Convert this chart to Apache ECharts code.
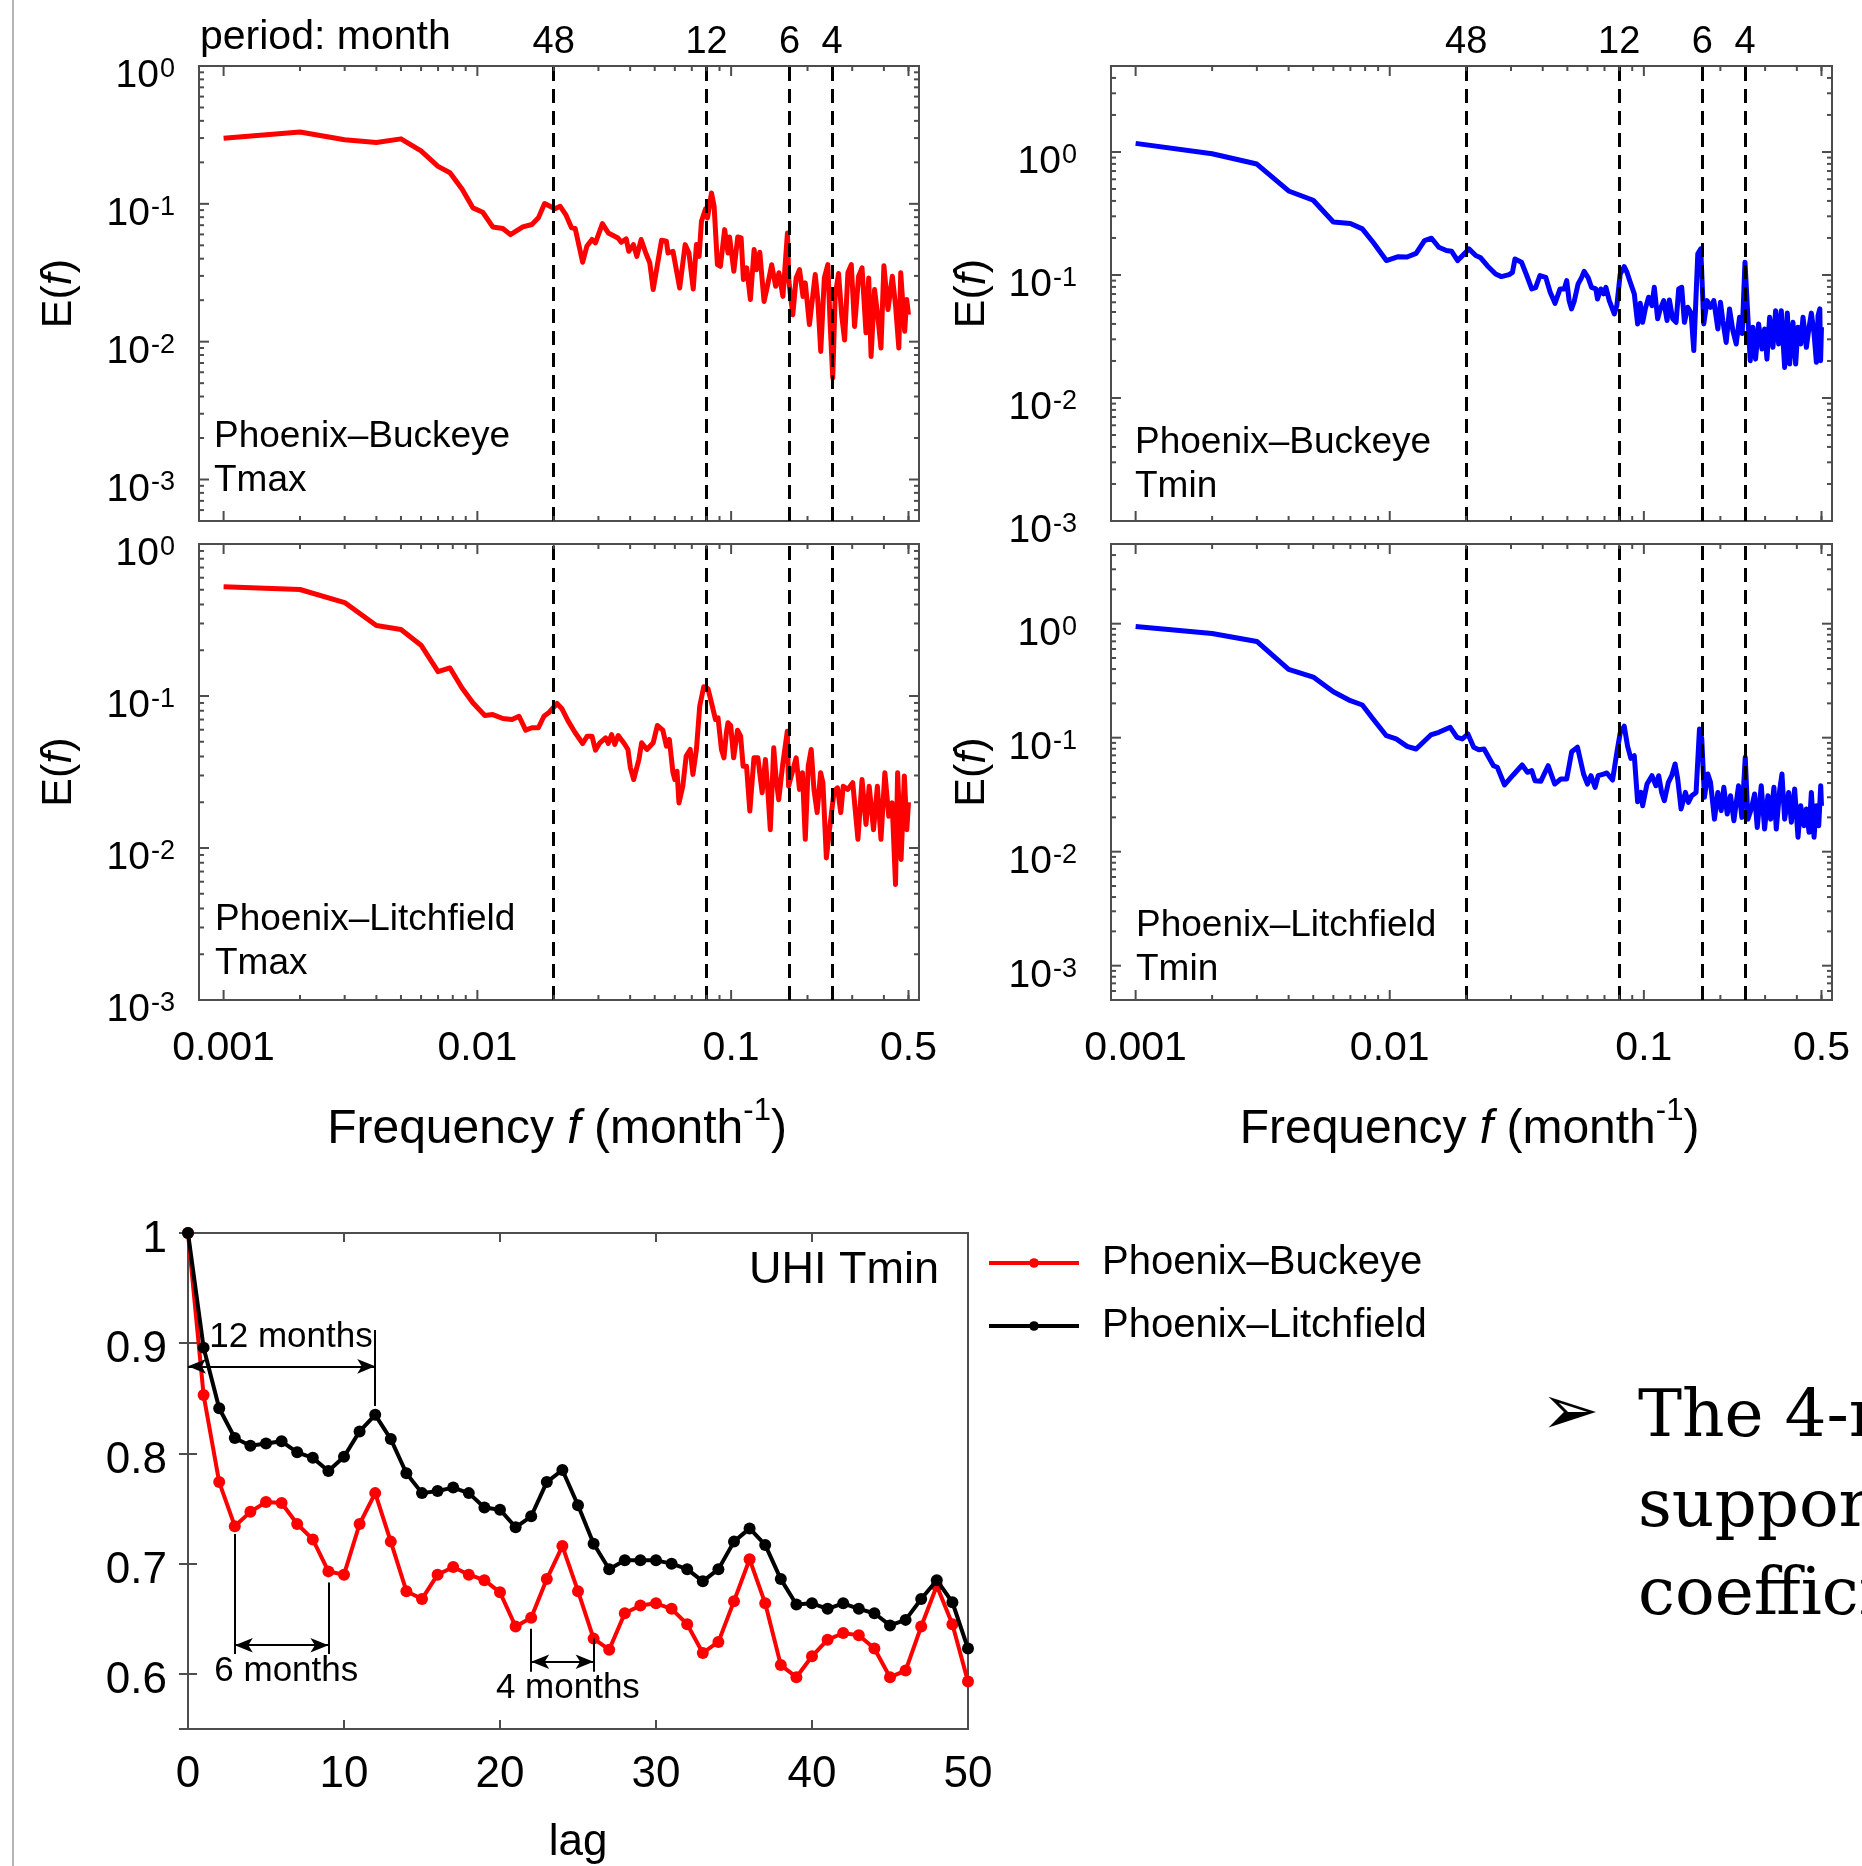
<!DOCTYPE html>
<html>
<head>
<meta charset="utf-8">
<title>UHI spectra and autocorrelation</title>
<script src="https://cdn.jsdelivr.net/npm/echarts@6/dist/echarts.min.js"></script>
<style>
html, body { margin: 0; padding: 0; background: #fff; }
#main { width: 1862px; height: 1866px; }
</style>
</head>
<body>
<div id="main"></div>
<script>
// periods (months) marked by the dashed lines
const periods = [48, 12, 6, 4];

// log axis ticks
const xMajorTicks = [0.001, 0.01, 0.1, 0.5];
const xTickLabels = ['0.001', '0.01', '0.1', '0.5'];
const xMinorTicks = [0.002, 0.003, 0.004, 0.005, 0.006, 0.007, 0.008, 0.009,
  0.02, 0.03, 0.04, 0.05, 0.06, 0.07, 0.08, 0.09, 0.2, 0.3, 0.4, 0.5];
const yMajorTicks = [0.001, 0.01, 0.1, 1];
const yMinorTicks = [0.0005, 0.0006, 0.0007, 0.0008, 0.0009,
  0.002, 0.003, 0.004, 0.005, 0.006, 0.007, 0.008, 0.009,
  0.02, 0.03, 0.04, 0.05, 0.06, 0.07, 0.08, 0.09,
  0.2, 0.3, 0.4, 0.5, 0.6, 0.7, 0.8, 0.9, 2, 3, 4, 5];

// spectra E(f), pairs [frequency (1/month), E]
const buckeyeTmax = [[0.001,0.299],[0.002,0.332],[0.003,0.292],[0.004,0.279],[0.005,0.296],[0.006,0.242],[0.007,0.187],[0.0078,0.168],[0.0087,0.128],[0.0096,0.0935],[0.0105,0.0869],[0.0115,0.068],[0.0126,0.0662],[0.0135,0.0598],[0.0151,0.068],[0.0164,0.0708],[0.0174,0.0791],[0.0184,0.1005],[0.0202,0.092],[0.0212,0.096],[0.0223,0.0836],[0.0235,0.067],[0.0243,0.0662],[0.026,0.0377],[0.027,0.0492],[0.0283,0.0551],[0.0292,0.0521],[0.0311,0.0719],[0.0328,0.0615],[0.0343,0.0589],[0.0358,0.0566],[0.0369,0.0526],[0.0386,0.0557],[0.0395,0.0453],[0.0412,0.0506],[0.0425,0.0416],[0.0442,0.0551],[0.0461,0.044],[0.0478,0.0373],[0.0493,0.0239],[0.0532,0.0544],[0.0556,0.0535],[0.0564,0.044],[0.059,0.0453],[0.0627,0.0245],[0.0659,0.0506],[0.0682,0.044],[0.0709,0.0241],[0.073,0.0506],[0.0748,0.0416],[0.0764,0.0748],[0.0793,0.092],[0.0807,0.079],[0.0837,0.12],[0.0857,0.096],[0.0883,0.0362],[0.0907,0.0352],[0.0943,0.065],[0.0972,0.044],[0.0986,0.0575],[0.1025,0.0324],[0.1062,0.0575],[0.1095,0.0566],[0.1118,0.0282],[0.1152,0.0343],[0.1191,0.0202],[0.1232,0.0466],[0.1258,0.0333],[0.1297,0.0445],[0.1348,0.0196],[0.1389,0.0252],[0.1445,0.0362],[0.1498,0.0252],[0.1543,0.0316],[0.16,0.0213],[0.1667,0.0615],[0.1689,0.0274],[0.175,0.0157],[0.1804,0.029],[0.186,0.0333],[0.192,0.0213],[0.196,0.0267],[0.2035,0.0133],[0.2145,0.0307],[0.2195,0.0202],[0.2255,0.0085],[0.233,0.029],[0.2405,0.0362],[0.2455,0.0137],[0.2515,0.00545],[0.257,0.0213],[0.265,0.0312],[0.273,0.0153],[0.28,0.0103],[0.2885,0.0316],[0.2975,0.0362],[0.3065,0.0129],[0.318,0.0298],[0.328,0.0343],[0.34,0.0116],[0.3485,0.029],[0.356,0.0078],[0.3675,0.0239],[0.3785,0.0153],[0.3895,0.009],[0.4,0.0356],[0.415,0.0171],[0.4318,0.0298],[0.445,0.018],[0.458,0.009],[0.466,0.0316],[0.483,0.0119],[0.492,0.0202],[0.5,0.0157]];

const litchfieldTmax = [[0.001,0.524],[0.002,0.502],[0.003,0.412],[0.004,0.291],[0.005,0.274],[0.006,0.216],[0.007,0.1445],[0.0078,0.153],[0.0087,0.113],[0.0096,0.0902],[0.0107,0.0744],[0.0115,0.0755],[0.0126,0.0711],[0.0137,0.07],[0.0146,0.0736],[0.0155,0.0596],[0.0164,0.0618],[0.0174,0.0618],[0.0183,0.0736],[0.0192,0.0782],[0.0206,0.0893],[0.0215,0.0828],[0.0228,0.0683],[0.0243,0.0573],[0.026,0.0487],[0.0271,0.0544],[0.0283,0.0544],[0.0292,0.044],[0.0304,0.0492],[0.032,0.0531],[0.0328,0.0487],[0.0338,0.0558],[0.0348,0.048],[0.0359,0.055],[0.0379,0.0487],[0.0392,0.0445],[0.0401,0.0337],[0.0413,0.0282],[0.0433,0.0382],[0.0444,0.0492],[0.0466,0.0445],[0.0493,0.0492],[0.0512,0.064],[0.0538,0.0596],[0.0556,0.0468],[0.0571,0.0518],[0.059,0.0313],[0.06,0.0282],[0.0612,0.032],[0.0623,0.0198],[0.0645,0.0255],[0.0665,0.0402],[0.069,0.0445],[0.0707,0.0305],[0.073,0.0445],[0.0752,0.0857],[0.078,0.115],[0.0811,0.1115],[0.0837,0.0902],[0.0868,0.07],[0.0888,0.0719],[0.0916,0.0445],[0.0937,0.0392],[0.0958,0.0573],[0.0972,0.0667],[0.0996,0.064],[0.1023,0.0392],[0.106,0.0596],[0.109,0.0544],[0.1115,0.0345],[0.115,0.0345],[0.1185,0.0175],[0.123,0.0392],[0.1275,0.0392],[0.1325,0.0231],[0.1365,0.0382],[0.1394,0.0243],[0.1427,0.0132],[0.1472,0.0456],[0.1505,0.0282],[0.154,0.0208],[0.1597,0.0354],[0.1665,0.0587],[0.1684,0.0255],[0.174,0.0313],[0.1804,0.0392],[0.186,0.0243],[0.191,0.0313],[0.196,0.0114],[0.2013,0.0345],[0.2068,0.0445],[0.212,0.0243],[0.2183,0.0171],[0.2252,0.0313],[0.23,0.0269],[0.2373,0.0086],[0.2446,0.0136],[0.2545,0.0236],[0.2625,0.0249],[0.2705,0.0171],[0.2765,0.0255],[0.288,0.0243],[0.3015,0.0269],[0.316,0.0114],[0.328,0.0282],[0.34,0.0143],[0.35,0.0255],[0.364,0.0132],[0.377,0.0255],[0.3895,0.0114],[0.4035,0.0313],[0.418,0.0162],[0.431,0.0198],[0.4445,0.00575],[0.453,0.0313],[0.4675,0.0084],[0.4815,0.0298],[0.4925,0.0132],[0.5,0.02]];

const buckeyeTmin = [[0.001,1.175],[0.002,0.968],[0.003,0.798],[0.004,0.482],[0.005,0.405],[0.006,0.27],[0.007,0.262],[0.0078,0.237],[0.0086,0.1845],[0.0097,0.131],[0.0108,0.141],[0.0117,0.14],[0.0127,0.15],[0.0137,0.1905],[0.0146,0.199],[0.0156,0.168],[0.0167,0.158],[0.0175,0.156],[0.0185,0.131],[0.0205,0.163],[0.0218,0.144],[0.0228,0.138],[0.0242,0.119],[0.0261,0.102],[0.0275,0.097],[0.0295,0.1007],[0.0304,0.105],[0.0311,0.135],[0.033,0.127],[0.0346,0.099],[0.0362,0.077],[0.0375,0.079],[0.039,0.099],[0.0411,0.0958],[0.0428,0.0723],[0.0447,0.0588],[0.0468,0.077],[0.0486,0.077],[0.0497,0.09],[0.0508,0.0619],[0.0519,0.053],[0.0532,0.0611],[0.0551,0.0846],[0.0568,0.0947],[0.0582,0.107],[0.0604,0.0947],[0.0622,0.0794],[0.0647,0.077],[0.0657,0.0638],[0.0677,0.077],[0.0694,0.0702],[0.0709,0.0794],[0.0731,0.0619],[0.0765,0.0482],[0.0783,0.0564],[0.0807,0.102],[0.0837,0.117],[0.0858,0.105],[0.0884,0.0873],[0.0917,0.0702],[0.0945,0.04],[0.0968,0.0588],[0.0989,0.0412],[0.1013,0.053],[0.1044,0.0659],[0.1076,0.0564],[0.1099,0.0794],[0.1133,0.044],[0.1161,0.053],[0.1197,0.0619],[0.1234,0.0426],[0.126,0.0626],[0.1299,0.044],[0.1339,0.0412],[0.1371,0.077],[0.1409,0.0794],[0.1444,0.0412],[0.1488,0.0546],[0.1534,0.049],[0.1572,0.0243],[0.163,0.1485],[0.1675,0.163],[0.1721,0.04],[0.1774,0.0619],[0.1829,0.0546],[0.1885,0.0619],[0.1955,0.0364],[0.2002,0.06],[0.2045,0.0426],[0.2108,0.0283],[0.2173,0.053],[0.224,0.0353],[0.2309,0.0275],[0.238,0.0453],[0.2438,0.0334],[0.25,0.127],[0.2567,0.0453],[0.2622,0.0201],[0.2686,0.0376],[0.2752,0.0207],[0.2828,0.04],[0.2915,0.025],[0.2986,0.0364],[0.305,0.0207],[0.3125,0.0453],[0.3221,0.0258],[0.33,0.0513],[0.3391,0.0275],[0.3474,0.0513],[0.3581,0.0177],[0.3669,0.049],[0.3747,0.0189],[0.3862,0.0412],[0.3957,0.0189],[0.4042,0.0376],[0.4141,0.0275],[0.423,0.0453],[0.436,0.0258],[0.4467,0.0376],[0.4562,0.049],[0.4674,0.0334],[0.4774,0.0195],[0.4847,0.0468],[0.4925,0.053],[0.496,0.0201],[0.5,0.0376]];

const litchfieldTmin = [[0.001,0.946],[0.002,0.819],[0.003,0.698],[0.004,0.398],[0.005,0.34],[0.006,0.253],[0.007,0.211],[0.0078,0.1935],[0.0086,0.146],[0.0097,0.104],[0.0106,0.0975],[0.0117,0.084],[0.0127,0.0796],[0.0145,0.1056],[0.0156,0.1115],[0.0173,0.1233],[0.0184,0.1007],[0.0193,0.0975],[0.0203,0.1077],[0.0214,0.0824],[0.0224,0.0785],[0.0235,0.0796],[0.0256,0.0568],[0.0265,0.055],[0.0283,0.0385],[0.0306,0.0471],[0.0332,0.0576],[0.0348,0.0497],[0.0362,0.0514],[0.0373,0.0419],[0.0393,0.0414],[0.042,0.0568],[0.0446,0.0392],[0.0471,0.0434],[0.0497,0.0434],[0.052,0.0753],[0.0548,0.0824],[0.0579,0.048],[0.06,0.0392],[0.0619,0.0464],[0.0643,0.0367],[0.0661,0.0464],[0.0694,0.048],[0.0715,0.049],[0.0753,0.0425],[0.0783,0.0744],[0.0807,0.11],[0.0837,0.126],[0.0863,0.084],[0.0889,0.0659],[0.0917,0.0695],[0.0945,0.0274],[0.0974,0.0331],[0.0989,0.0253],[0.1029,0.0392],[0.1076,0.0464],[0.1116,0.0379],[0.1144,0.0464],[0.1175,0.0331],[0.1204,0.028],[0.1249,0.0406],[0.1287,0.0464],[0.1327,0.0588],[0.1359,0.0434],[0.1401,0.0237],[0.1457,0.0331],[0.1497,0.0271],[0.1543,0.031],[0.1605,0.0331],[0.1655,0.119],[0.169,0.0975],[0.1731,0.03],[0.1785,0.048],[0.1829,0.0406],[0.1896,0.0193],[0.1955,0.0331],[0.2015,0.0229],[0.2064,0.0367],[0.2128,0.0214],[0.2193,0.031],[0.2261,0.0187],[0.2358,0.0379],[0.2431,0.02],[0.2506,0.0673],[0.2567,0.0193],[0.2646,0.0237],[0.2727,0.0321],[0.2794,0.0163],[0.2897,0.0379],[0.2986,0.0158],[0.3078,0.031],[0.3154,0.0193],[0.325,0.0367],[0.332,0.0158],[0.3422,0.0343],[0.3495,0.048],[0.3581,0.0193],[0.3714,0.0331],[0.3805,0.0181],[0.3921,0.0355],[0.4042,0.0134],[0.4141,0.0253],[0.4268,0.0169],[0.436,0.0237],[0.4467,0.0148],[0.4562,0.0331],[0.4674,0.0134],[0.4774,0.0253],[0.4877,0.0169],[0.4966,0.0379],[0.5,0.0253]];

// autocorrelation of UHI Tmin
const lags = [0,1,2,3,4,5,6,7,8,9,10,11,12,13,14,15,16,17,18,19,20,21,22,23,24,25,26,27,28,29,30,31,32,33,34,35,36,37,38,39,40,41,42,43,44,45,46,47,48,49,50];
const acfBuckeye = [1.0,0.853,0.774,0.734,0.747,0.756,0.755,0.736,0.722,0.693,0.690,0.736,0.764,0.720,0.675,0.668,0.690,0.697,0.690,0.685,0.674,0.643,0.651,0.686,0.716,0.675,0.632,0.622,0.655,0.662,0.664,0.659,0.645,0.619,0.629,0.666,0.704,0.664,0.608,0.597,0.616,0.631,0.637,0.635,0.623,0.597,0.603,0.643,0.680,0.645,0.593];
const acfLitchfield = [1.0,0.896,0.841,0.814,0.807,0.809,0.811,0.801,0.796,0.784,0.797,0.820,0.835,0.813,0.782,0.764,0.766,0.769,0.764,0.751,0.749,0.733,0.743,0.774,0.785,0.753,0.718,0.695,0.703,0.703,0.703,0.700,0.695,0.684,0.695,0.720,0.732,0.717,0.686,0.663,0.664,0.659,0.664,0.659,0.655,0.644,0.649,0.668,0.685,0.665,0.623];

// annotations of the lag plot, in data units [lag, acf]
const spanArrows = [[0, 12, 0.879], [3, 9, 0.626], [22, 26, 0.611]];
const spanBars = [[12, 0.912, 0.843], [3, 0.727, 0.618], [9, 0.683, 0.618], [22, 0.641, 0.602], [26, 0.632, 0.602]];
const monthLabels = [['12 months', 6.6, 0.905], ['6 months', 6.3, 0.602], ['4 months', 24.35, 0.5865]];

const FONT = '"Liberation Sans", Arial, Helvetica, sans-serif';
const INK = '#000';
const FRAME = '#4d4d4d';

const panels = [
  { data: buckeyeTmax, color: '#ff0000', site: 'Phoenix–Buckeye', vr: 'Tmax', box: [199, 66, 720, 455], yMin: 0.0005, yMax: 1, top: true, noteAt: [214, 415], yTitleX: 59.5, labelMargin: 24 },
  { data: litchfieldTmax, color: '#ff0000', site: 'Phoenix–Litchfield', vr: 'Tmax', box: [199, 544, 720, 456], yMin: 0.001, yMax: 1, top: false, noteAt: [215, 898], yTitleX: 59.5, labelMargin: 24 },
  { data: buckeyeTmin, color: '#0000ff', site: 'Phoenix–Buckeye', vr: 'Tmin', box: [1111, 66, 721, 455], yMin: 0.001, yMax: 5, top: true, noteAt: [1135, 421], yTitleX: 972.6, labelMargin: 34 },
  { data: litchfieldTmin, color: '#0000ff', site: 'Phoenix–Litchfield', vr: 'Tmin', box: [1111, 544, 721, 456], yMin: 0.0005, yMax: 5, top: false, noteAt: [1136, 904], yTitleX: 972.6, labelMargin: 34 }
];

const grids = [], xAxes = [], yAxes = [], series = [], graphics = [];

function decadeLabel(v) {
  const lg = Math.log10(v);
  const e = Math.round(lg);
  if (Math.abs(lg - e) > 0.02) return '';
  return '{b|10}{s|' + e + '}';
}

function tickSeries(i, p) {
  const items = [];
  const inY = v => v >= p.yMin * 0.999 && v <= p.yMax * 1.001;
  xMajorTicks.forEach(v => items.push({ value: [v, p.yMax], kind: 'x', len: 10 }));
  xMinorTicks.forEach(v => items.push({ value: [v, p.yMax], kind: 'x', len: 5 }));
  yMajorTicks.filter(inY).forEach(v => items.push({ value: [0.01, v], kind: 'y', len: 10 }));
  yMinorTicks.filter(inY).forEach(v => items.push({ value: [0.01, v], kind: 'y', len: 5 }));
  if (!p.top) {
    xMajorTicks.forEach((v, k) => items.push({ value: [v, p.yMax], kind: 'label', text: xTickLabels[k] }));
  }
  return {
    type: 'custom', name: 'ticks' + i, xAxisIndex: i, yAxisIndex: i,
    silent: true, clip: false, z: 6, animation: false,
    data: items.map(d => d.value),
    renderItem: function (params, api) {
      const d = items[params.dataIndex];
      const cs = params.coordSys;
      const pt = api.coord([api.value(0), api.value(1)]);
      const st = { stroke: FRAME, lineWidth: 2 };
      const bottom = cs.y + cs.height, right = cs.x + cs.width;
      if (d.kind === 'x') {
        return { type: 'group', children: [
          { type: 'line', shape: { x1: pt[0], y1: bottom, x2: pt[0], y2: bottom - d.len }, style: st },
          { type: 'line', shape: { x1: pt[0], y1: cs.y, x2: pt[0], y2: cs.y + d.len }, style: st }
        ] };
      }
      if (d.kind === 'y') {
        return { type: 'group', children: [
          { type: 'line', shape: { x1: cs.x, y1: pt[1], x2: cs.x + d.len, y2: pt[1] }, style: st },
          { type: 'line', shape: { x1: right, y1: pt[1], x2: right - d.len, y2: pt[1] }, style: st }
        ] };
      }
      return { type: 'text', x: pt[0], y: bottom + 49,
        style: { text: d.text, fill: INK, fontSize: 41, fontFamily: FONT, align: 'center', verticalAlign: 'middle' } };
    }
  };
}

panels.forEach(function (p, i) {
  grids.push({ left: p.box[0], top: p.box[1], width: p.box[2], height: p.box[3],
    show: true, borderColor: FRAME, borderWidth: 2, backgroundColor: 'transparent',
    containLabel: false, outerBoundsMode: 'none' });
  xAxes.push({ type: 'log', logBase: 10, gridIndex: i, min: 0.0008, max: 0.55,
    axisLine: { show: false }, axisTick: { show: false }, axisLabel: { show: false }, splitLine: { show: false } });
  yAxes.push({ type: 'log', logBase: 10, gridIndex: i, min: p.yMin, max: p.yMax,
    axisLine: { show: false }, axisTick: { show: false }, splitLine: { show: false },
    axisLabel: {
      formatter: decadeLabel, margin: p.labelMargin, padding: [20, 0, 0, 0],
      rich: {
        b: { fontSize: 39, fontFamily: FONT, color: INK, lineHeight: 40, verticalAlign: 'bottom' },
        s: { fontSize: 27, fontFamily: FONT, color: INK, lineHeight: 24, verticalAlign: 'top', padding: [0, 0, 26, 1] }
      }
    } });
  series.push({
    type: 'line', name: p.site + ' ' + p.vr + ' spectrum', xAxisIndex: i, yAxisIndex: i,
    data: p.data, showSymbol: false, symbol: 'none', animation: false, z: 3,
    lineStyle: { color: p.color, width: 5, join: 'round' }, itemStyle: { color: p.color },
    markLine: {
      silent: true, animation: false, symbol: ['none', 'none'],
      lineStyle: { color: INK, width: 3, type: [14, 8] },
      label: { show: p.top, position: 'end', formatter: '{b}', fontSize: 38, fontFamily: FONT, color: INK, distance: 4 },
      data: periods.map(m => ({ xAxis: 1 / m, name: String(m) }))
    }
  });
  series.push(tickSeries(i, p));

  graphics.push({ type: 'text', x: p.noteAt[0], y: p.noteAt[1], silent: true,
    style: { text: p.site + '\n' + p.vr, fill: INK, fontSize: 37, fontFamily: FONT, lineHeight: 44,
      textAlign: 'left', align: 'left', textVerticalAlign: 'top', verticalAlign: 'top' } });
  graphics.push({ type: 'text', x: p.yTitleX, y: p.box[1] + p.box[3] / 2, rotation: Math.PI / 2, silent: true,
    style: { text: '{n|E(}{i|f}{n|)}', textAlign: 'center', align: 'center', textVerticalAlign: 'middle', verticalAlign: 'middle',
      rich: { n: { fontSize: 43, fontFamily: FONT, fill: INK, textFill: INK }, i: { fontSize: 43, fontFamily: FONT, fontStyle: 'italic', fill: INK, textFill: INK } } } });
  if (!p.top) {
    graphics.push({ type: 'text', x: p.box[0] + p.box[2] / 2 - 2, y: 1125, silent: true,
      style: { text: '{n|Frequency }{i|f}{n| (month}{s|-1}{n|)}', textAlign: 'center', align: 'center', textVerticalAlign: 'middle', verticalAlign: 'middle',
        rich: {
          n: { fontSize: 48, fontFamily: FONT, fill: INK, textFill: INK, lineHeight: 58, verticalAlign: 'bottom', textVerticalAlign: 'bottom' },
          i: { fontSize: 48, fontFamily: FONT, fontStyle: 'italic', fill: INK, textFill: INK, lineHeight: 58, verticalAlign: 'bottom', textVerticalAlign: 'bottom' },
          s: { fontSize: 31, fontFamily: FONT, fill: INK, textFill: INK, lineHeight: 30, verticalAlign: 'top', textVerticalAlign: 'top' }
        } } });
  }
});

// autocorrelation panel
grids.push({ left: 188, top: 1233, width: 780, height: 496, show: true, borderColor: FRAME, borderWidth: 2,
  backgroundColor: 'transparent', containLabel: false, outerBoundsMode: 'none' });
const lagTick = { show: true, inside: true, length: 9, lineStyle: { color: FRAME, width: 2 } };
xAxes.push({ type: 'value', gridIndex: 4, min: 0, max: 50, interval: 10, position: 'bottom',
  axisLine: { show: false }, axisTick: lagTick, splitLine: { show: false },
  axisLabel: { fontSize: 44, fontFamily: FONT, color: INK, margin: 24 },
  name: 'lag', nameLocation: 'middle', nameGap: 92, nameMoveOverlap: false,
  nameTextStyle: { fontSize: 44, fontFamily: FONT, color: INK } });
xAxes.push({ type: 'value', gridIndex: 4, min: 0, max: 50, interval: 10, position: 'top',
  axisLine: { show: false }, axisTick: lagTick, splitLine: { show: false }, axisLabel: { show: false } });
yAxes.push({ type: 'value', gridIndex: 4, min: 0.55, max: 1, splitNumber: 5, position: 'left',
  axisLine: { show: false }, axisTick: lagTick, splitLine: { show: false },
  axisLabel: { fontSize: 44, fontFamily: FONT, color: INK, margin: 21, showMinLabel: false,
    formatter: v => '{v|' + v + '}', rich: { v: { fontSize: 44, fontFamily: FONT, color: INK, padding: [14, 0, 0, 0] } } } });
yAxes.push({ type: 'value', gridIndex: 4, min: 0.55, max: 1, splitNumber: 5, position: 'right',
  axisLine: { show: false }, axisTick: lagTick, splitLine: { show: false }, axisLabel: { show: false } });

series.push({
  type: 'line', name: 'Phoenix–Buckeye', xAxisIndex: 4, yAxisIndex: 4, animation: false,
  data: lags.map((l, k) => [l, acfBuckeye[k]]),
  symbol: 'circle', symbolSize: 12, showAllSymbol: true, z: 3,
  lineStyle: { color: '#ff0000', width: 4 }, itemStyle: { color: '#ff0000' },
  markLine: {
    silent: true, animation: false, symbol: ['arrow', 'arrow'], symbolSize: [11, 18],
    lineStyle: { color: INK, width: 2, type: 'solid' }, label: { show: false },
    data: spanArrows.map(a => [{ coord: [a[0], a[2]] }, { coord: [a[1], a[2]] }])
  }
});
series.push({
  type: 'line', name: 'Phoenix–Litchfield', xAxisIndex: 4, yAxisIndex: 4, animation: false,
  data: lags.map((l, k) => [l, acfLitchfield[k]]),
  symbol: 'circle', symbolSize: 12, showAllSymbol: true, z: 4,
  lineStyle: { color: '#000000', width: 4 }, itemStyle: { color: '#000000' },
  markLine: {
    silent: true, animation: false, symbol: ['none', 'none'],
    lineStyle: { color: INK, width: 2, type: 'solid' }, label: { show: false },
    data: spanBars.map(b => [{ coord: [b[0], b[1]] }, { coord: [b[0], b[2]] }])
  }
});
series.push({
  type: 'custom', name: 'month labels', xAxisIndex: 4, yAxisIndex: 4, silent: true, clip: false, z: 7, animation: false,
  data: monthLabels.map(m => [m[1], m[2]]),
  renderItem: function (params, api) {
    const pt = api.coord([api.value(0), api.value(1)]);
    return { type: 'text', x: pt[0], y: pt[1],
      style: { text: monthLabels[params.dataIndex][0], fill: INK, fontSize: 35, fontFamily: FONT, align: 'center', verticalAlign: 'middle' } };
  }
});

graphics.push({ type: 'text', x: 939, y: 1271, silent: true,
  style: { text: 'UHI Tmin', fill: INK, fontSize: 45, fontFamily: FONT, textAlign: 'right', align: 'right', textVerticalAlign: 'middle', verticalAlign: 'middle' } });
graphics.push({ type: 'text', x: 200, y: 38, silent: true,
  style: { text: 'period: month', fill: INK, fontSize: 41, fontFamily: FONT, textAlign: 'left', align: 'left', textVerticalAlign: 'middle', verticalAlign: 'middle' } });

// slide decorations
graphics.push({ type: 'line', silent: true, shape: { x1: 13, y1: 0, x2: 13, y2: 1866 }, style: { stroke: '#b4b4b4', lineWidth: 2 } });
graphics.push({ type: 'text', x: 1570, y: 1416, silent: true,
  style: { text: '➢', fill: INK, fontSize: 70, fontWeight: 'bold', fontFamily: '"DejaVu Sans", sans-serif', textAlign: 'center', align: 'center', textVerticalAlign: 'middle', verticalAlign: 'middle' } });
const slideLines = ['The 4-month', 'supported', 'coefficients'];
const slideY = [1419, 1509, 1597];
slideLines.forEach(function (t, k) {
  graphics.push({ type: 'text', x: 1638, y: slideY[k], silent: true,
    style: { text: t, fill: INK, fontSize: 66, fontFamily: '"DejaVu Serif", serif', textAlign: 'left', align: 'left', textVerticalAlign: 'middle', verticalAlign: 'middle' } });
});

const chart = echarts.init(document.getElementById('main'), null, { renderer: 'canvas' });
chart.setOption({
  backgroundColor: '#ffffff',
  animation: false,
  textStyle: { fontFamily: FONT, color: INK },
  grid: grids,
  xAxis: xAxes,
  yAxis: yAxes,
  legend: {
    data: ['Phoenix–Buckeye', 'Phoenix–Litchfield'], orient: 'vertical', left: 982, top: 1236,
    itemWidth: 90, itemHeight: 12, itemGap: 19, selectedMode: false,
    lineStyle: { width: 4 },
    textStyle: { fontSize: 40, fontFamily: FONT, color: INK, lineHeight: 44, padding: [0, 0, 0, 18] }
  },
  series: series,
  graphic: { elements: graphics }
});
</script>
</body>
</html>
